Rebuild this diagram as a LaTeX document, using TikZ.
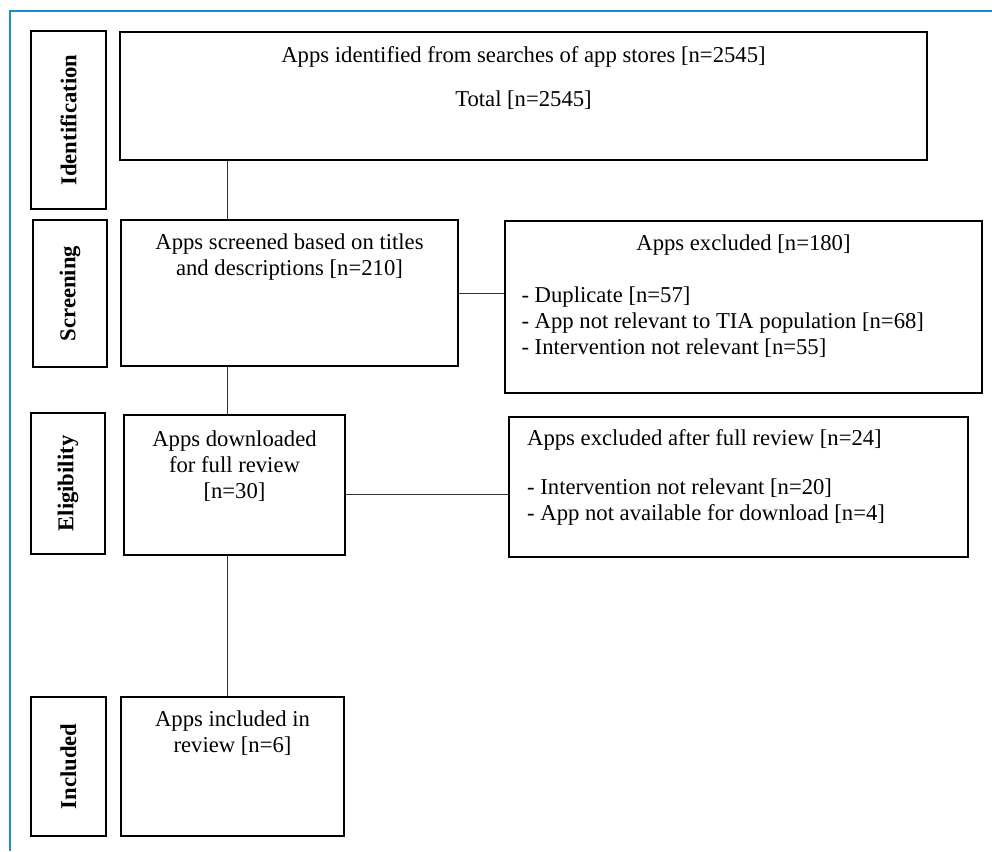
\documentclass[tikz,border=0pt]{standalone}
\usepackage{fontspec}
\setmainfont{Liberation Serif}
\usetikzlibrary{positioning,fit}

\tikzset{every picture/.style={line width=0.75pt}}
\tikzset{
  stagebox/.style={draw, line width=1.5pt, inner sep=0pt},
  boxtext/.style={inner sep=0pt, align=center, font=\fontsize{17}{19.5}\selectfont},
  listtext/.style={inner sep=0pt, align=left, font=\fontsize{17}{19.5}\selectfont},
  stagelabel/.style={inner sep=0pt, rotate=90, font=\fontsize{17}{19.5}\selectfont\bfseries},
  link/.style={draw=black!80, line width=0.75pt}
}

\begin{document}
\begin{tikzpicture}[x=0.75pt,y=0.75pt,yscale=-1,xscale=1]
\useasboundingbox (0,0) rectangle (992,851);

%Frame lines
\draw [color={rgb, 255:red, 30; green, 140; blue, 200 }, line width=1.5pt] (10,851) -- (10,11) -- (992,11);

%Stage labels
\node [stagebox, fit={(31,31) (106,209)}] (lblident) {};
\node [stagebox, fit={(33,220) (107,367)}] (lblscreen) {};
\node [stagebox, fit={(31,413) (105,554)}] (lbleligible) {};
\node [stagebox, fit={(31,697) (106,836)}] (lblincluded) {};
\node [stagelabel] at (lblident.center) {Identification};
\node [stagelabel] at (lblscreen.center) {Screening};
\node [stagelabel] at (lbleligible.center) {Eligibility};
\node [stagelabel] at (lblincluded.center) {Included};

%Flow boxes
\node [stagebox, fit={(120,32) (927,160)}] (ident) {};
\node [stagebox, fit={(121,220) (458,366)}] (screen) {};
\node [stagebox, fit={(505,221) (982,393)}] (excl) {};
\node [stagebox, fit={(124,415) (345,555)}] (eligible) {};
\node [stagebox, fit={(509,417) (968,557)}] (exclfull) {};
\node [stagebox, fit={(121,697) (344,836)}] (included) {};

% Text Node
\node [boxtext, below=11pt of ident.north] (identtxt) {Apps identified from searches of app stores [n=2545]\\[14pt]Total [n=2545]};
% Text Node
\node [boxtext, below=11pt of screen.north] (screentxt) {Apps screened based on titles\\and descriptions [n=210]};
% Text Node
\node [boxtext, below=10.5pt of excl.north] (excltitle) {Apps excluded [n=180]};
\node [listtext, below right=49.5pt and 12.75pt of excl.north west] (excllist) {- Duplicate [n=57]\\- App not relevant to TIA population [n=68]\\- Intervention not relevant [n=55]};
% Text Node
\node [boxtext, below=12.5pt of eligible.north] (eligibletxt) {Apps downloaded\\for full review\\{[n=30]}};
% Text Node
\node [listtext, below right=10pt and 14pt of exclfull.north west] (exclfulltxt) {Apps excluded after full review [n=24]\\[17pt]- Intervention not relevant [n=20]\\- App not available for download [n=4]};
% Text Node
\node [boxtext, below=11pt of included.north] (includedtxt) {Apps included in\\review [n=6]};

%Connectors
\coordinate (spine) at (227,0);
\draw [link] (ident.south -| spine) -- (screen.north -| spine);
\draw [link] (screen.south -| spine) -- (eligible.north -| spine);
\draw [link] (eligible.south -| spine) -- (included.north -| spine);
\draw [link] (screen.east) -- (screen.east -| excl.west);
\draw [link] ([yshift=6.75pt]eligible.east) -- ([yshift=6.75pt]eligible.east -| exclfull.west);

\end{tikzpicture}
\end{document}
